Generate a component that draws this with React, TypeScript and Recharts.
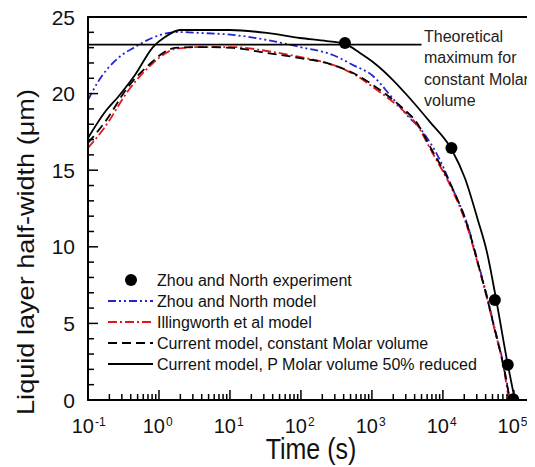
import React from 'react';
import { ComposedChart, Line, Scatter, XAxis, YAxis, ReferenceArea, Customized } from 'recharts';

// ---- Data (time in s, half-width in µm) ----
const expT = [417, 13200, 54000, 82000, 98000];
const expW = [23.3, 16.45, 6.53, 2.3, 0.05];

const zhouT = [0.1, 0.138, 0.265, 0.459, 0.797, 1.85, 3.78, 11.0, 33.2, 96.8, 282, 540, 1033, 1794, 3110, 5230, 9080, 13400, 22500, 31100, 41700, 54000, 70000, 87900];
const zhouW = [19.58, 20.76, 22.32, 23.04, 23.63, 24.02, 23.96, 23.83, 23.5, 23.04, 22.52, 21.87, 21.15, 19.91, 18.6, 17.49, 15.67, 13.9, 11.36, 9.01, 6.79, 4.63, 2.48, 0];

const illT = [0.1, 0.1734, 0.366, 0.797, 1.138, 1.68, 3.78, 11.0, 33.2, 96.8, 282, 615, 1033, 3110, 4035, 7000, 13400, 22500, 31100, 41700, 54000, 70000, 85100];
const illW = [16.45, 17.82, 20.17, 21.93, 22.52, 22.91, 23.04, 23.04, 22.78, 22.39, 21.87, 21.15, 20.43, 18.67, 18.15, 16.19, 13.77, 11.16, 8.88, 6.66, 4.5, 2.35, 0];

const constT = [0.1, 0.1734, 0.366, 0.797, 1.138, 1.68, 3.78, 11.0, 33.2, 96.8, 282, 615, 1033, 3110, 4035, 7000, 13400, 22500, 31100, 41700, 54000, 70000, 87900];
const constW = [16.78, 18.15, 20.43, 22.06, 22.65, 22.98, 23.04, 22.98, 22.65, 22.32, 21.87, 21.21, 20.56, 18.8, 18.28, 16.32, 13.9, 11.29, 8.94, 6.72, 4.57, 2.41, 0];

const reducedT = [0.1, 0.1734, 0.265, 0.459, 0.823, 1.215, 1.98, 10, 33.2, 96.8, 232, 417, 678, 1033, 1794, 3110, 6560, 13400, 20400, 31100, 41700, 55800, 82200, 103300];
const reducedW = [17.1, 18.8, 19.78, 21.21, 23.04, 23.69, 24.15, 24.15, 23.96, 23.63, 23.43, 23.24, 22.65, 22.06, 21.08, 19.91, 18.15, 16.32, 14.49, 11.75, 9.66, 6.66, 2.29, 0];

const theoT = [0.1, 5000];
const theoW = [23.2, 23.2];

const xMajor = [0.1, 1, 10, 100, 1000, 10000, 100000];
const xMinorMult = [2, 3, 4, 5, 6, 7, 8, 9];
const yTicks = [0, 1, 2, 3, 4, 5, 6, 7, 8, 9, 10, 11, 12, 13, 14, 15, 16, 17, 18, 19, 20, 21, 22, 23, 24, 25];

const theoText = ['Theoretical', 'maximum for', 'constant Molar', 'volume'];
const legendLabels = [
  'Zhou and North experiment',
  'Zhou and North model',
  'Illingworth et al model',
  'Current model, constant Molar volume',
  'Current model, P Molar volume 50% reduced',
];

const zip = (t: number[], w: number[]) => t.map((x, i) => ({ x, y: w[i] }));

const xTicks: number[] = [];
xMajor.forEach((m, i) => {
  xTicks.push(m);
  if (i < xMajor.length - 1) xMinorMult.forEach((k) => xTicks.push(m * k));
});

const FONT = '"Liberation Sans", Arial, Helvetica, sans-serif';
const BLUE = '#2323d4';
const RED = '#e3141c';

const XTick = (props: any) => {
  const { x, y, payload } = props;
  const v = payload.value;
  const lg = Math.log10(v);
  const exp = Math.round(lg);
  const major = Math.abs(lg - exp) < 1e-6;
  return (
    <g>
      <line x1={x} x2={x} y1={y} y2={y - (major ? 10 : 6)} stroke="#000" strokeWidth={1.5} />
      {major && (
        <g fontFamily={FONT} fill="#111">
          <text x={x + 6} y={y + 33} textAnchor="end" fontSize={20}>10</text>
          <text x={x + 7} y={y + 26} textAnchor="start" fontSize={12}>{exp}</text>
        </g>
      )}
    </g>
  );
};

const YTick = (props: any) => {
  const { x, y, payload } = props;
  const v = payload.value;
  const major = v % 5 === 0;
  return (
    <g>
      <line x1={x} x2={x + (major ? 10 : 6)} y1={y} y2={y} stroke="#000" strokeWidth={1.5} />
      {major && (
        <text x={x - 13} y={y + 7.5} textAnchor="end" fontSize={21} fontFamily={FONT} fill="#111">
          {v}
        </text>
      )}
    </g>
  );
};

const Overlay = () => {
  const rowsY = [272, 293, 314, 335, 356];
  return (
    <g fontFamily={FONT} fill="#111">
      <text
        transform="translate(26,244) rotate(-90) scale(1.13,1)"
        textAnchor="middle"
        fontSize={24}
      >
        Liquid layer half-width (μm)
      </text>
      <text transform="translate(303,451) scale(1,1.2)" textAnchor="middle" fontSize={25}>
        Time (s)
      </text>
      {theoText.map((t, i) => (
        <text key={t} x={416} y={34 + i * 21.3} fontSize={16} fill="#222">
          {t}
        </text>
      ))}
      <circle cx={123} cy={rowsY[0]} r={6} fill="#000" />
      <line x1={100} x2={145} y1={rowsY[1]} y2={rowsY[1]} stroke={BLUE} strokeWidth={1.8} strokeDasharray="8 3 2 3 2 3" />
      <line x1={100} x2={145} y1={rowsY[2]} y2={rowsY[2]} stroke={RED} strokeWidth={1.8} strokeDasharray="9 3 2 3" />
      <line x1={100} x2={145} y1={rowsY[3]} y2={rowsY[3]} stroke="#000" strokeWidth={1.8} strokeDasharray="9 5" />
      <line x1={100} x2={145} y1={rowsY[4]} y2={rowsY[4]} stroke="#000" strokeWidth={1.8} />
      {legendLabels.map((l, i) => (
        <text key={l} x={149} y={rowsY[i] + 5.7} fontSize={16}>
          {l}
        </text>
      ))}
    </g>
  );
};

const Dot = (props: any) => <circle cx={props.cx} cy={props.cy} r={6} fill="#000" />;

export default function App() {
  return (
    <ComposedChart width={527} height={459} margin={{ top: 9, right: 2, bottom: 0, left: 0 }}>
      <XAxis
        dataKey="x"
        type="number"
        scale="log"
        domain={[0.1, 186000]}
        allowDataOverflow
        ticks={xTicks}
        interval={0}
        tick={<XTick />}
        tickLine={false}
        tickSize={0}
        tickMargin={0}
        height={67}
        axisLine={{ stroke: '#000', strokeWidth: 2 }}
      />
      <YAxis
        dataKey="y"
        type="number"
        domain={[0, 25]}
        allowDataOverflow
        ticks={yTicks}
        interval={0}
        tick={<YTick />}
        tickLine={false}
        tickSize={0}
        tickMargin={0}
        width={80}
        axisLine={{ stroke: '#000', strokeWidth: 2 }}
      />
      <ReferenceArea x1={0.1} x2={186000} y1={0} y2={25} fill="none" stroke="#000" strokeWidth={1.8} ifOverflow="visible" />
      <Line data={zip(zhouT, zhouW)} dataKey="y" type="monotone" stroke={BLUE} strokeWidth={1.8} strokeDasharray="8 3 2 3 2 3" dot={false} isAnimationActive={false} />
      <Line data={zip(illT, illW)} dataKey="y" type="monotone" stroke={RED} strokeWidth={1.8} strokeDasharray="9 3 2 3" dot={false} isAnimationActive={false} />
      <Line data={zip(constT, constW)} dataKey="y" type="monotone" stroke="#000" strokeWidth={1.8} strokeDasharray="9 5" dot={false} isAnimationActive={false} />
      <Line data={zip(reducedT, reducedW)} dataKey="y" type="monotone" stroke="#000" strokeWidth={1.8} dot={false} isAnimationActive={false} />
      <Line data={zip(theoT, theoW)} dataKey="y" type="linear" stroke="#000" strokeWidth={1.8} dot={false} isAnimationActive={false} />
      <Scatter data={zip(expT, expW)} dataKey="y" shape={<Dot />} isAnimationActive={false} />
      <Customized component={<Overlay />} />
    </ComposedChart>
  );
}
